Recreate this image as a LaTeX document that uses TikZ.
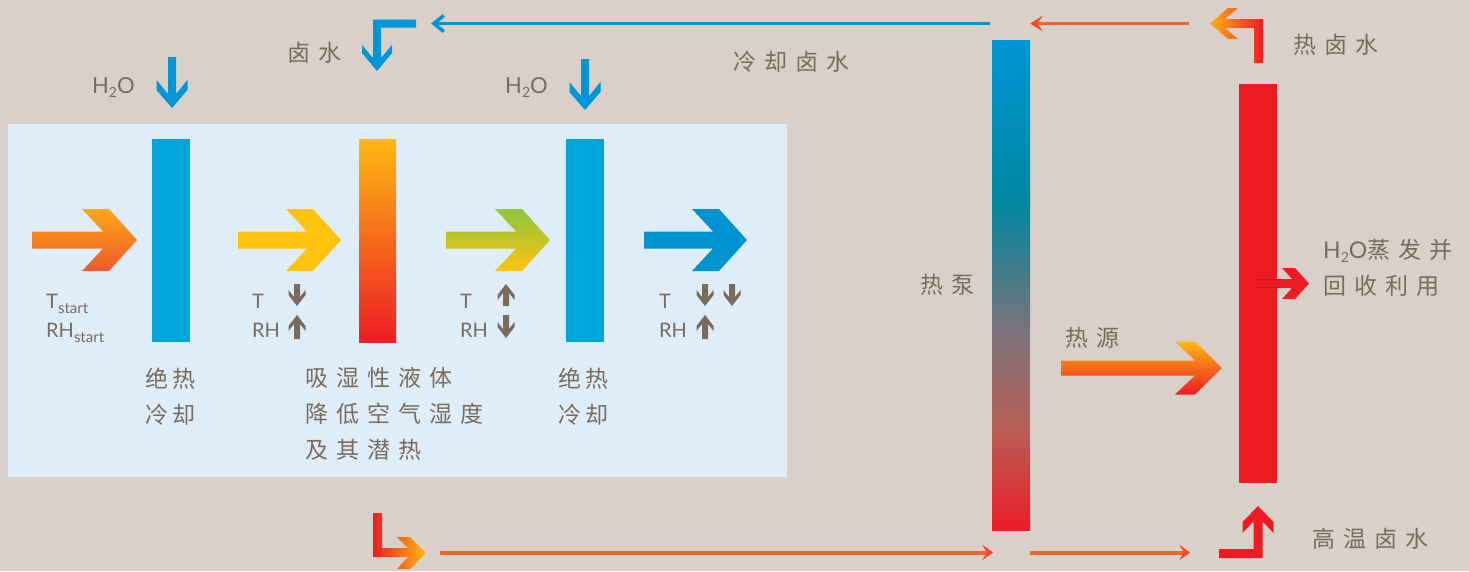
\documentclass[tikz,border=0pt]{standalone}
\usepackage{fontspec}
\setmainfont{Lato}
\newfontfamily\cjk[LetterSpace=35]{Noto Sans CJK SC}
\usetikzlibrary{arrows.meta}
\definecolor{bg}{HTML}{D9D0C9}
\definecolor{panel}{HTML}{DFEDF8}
\definecolor{txt}{HTML}{7A6C5C}
\definecolor{barblue}{HTML}{00A6DA}
\definecolor{arrblue}{HTML}{0093D0}
\definecolor{wblue}{HTML}{0096D6}
\definecolor{hred}{HTML}{ED1C24}
\definecolor{hyel}{HTML}{FDB913}
\definecolor{ayellow}{HTML}{FFC20E}
\definecolor{agreen}{HTML}{8DC63F}
\definecolor{lorange}{HTML}{EC6532}
\definecolor{tiporange}{HTML}{EF4B2A}
\definecolor{aoTop}{HTML}{FBA81A}
\definecolor{aoBot}{HTML}{F0592A}
\definecolor{hbYel}{HTML}{FBB016}
\definecolor{darkred}{HTML}{BE1923}
\definecolor{hpR}{HTML}{EC1C27}
\definecolor{hpA}{HTML}{B85E55}
\definecolor{hpB}{HTML}{7A737B}
\definecolor{hpC}{HTML}{00879F}
\pgfdeclareverticalshading{hpshade}{100bp}{color(0bp)=(hpR); color(25bp)=(hpR); color(35.2bp)=(hpA); color(45.4bp)=(hpB); color(58.4bp)=(hpC); color(75bp)=(wblue); color(100bp)=(wblue)}
\newcommand\myharrow[9]{\path[#1] (#2,#3) -- ({#2-#7},{#3-#6}) -- ({#2-#8},{#3-#6}) -- ({#2-#9},{#3-#5}) -- ({#2-#4},{#3-#5}) -- ({#2-#4},{#3+#5}) -- ({#2-#9},{#3+#5}) -- ({#2-#8},{#3+#6}) -- ({#2-#7},{#3+#6}) -- cycle;}
\newcommand\myvarrow[9]{\path[#1] (#2,#3) -- ({#2+#6},{#3-(#7)}) -- ({#2+#6},{#3-(#8)}) -- ({#2+#5},{#3-(#9)}) -- ({#2+#5},{#3-(#4)}) -- ({#2-#5},{#3-(#4)}) -- ({#2-#5},{#3-(#9)}) -- ({#2-#6},{#3-(#8)}) -- ({#2-#6},{#3-(#7)}) -- cycle;}
\newcommand\hto{H\lower4pt\hbox{\fontsize{14pt}{14pt}\selectfont 2}O}
\newcommand\sbs[1]{\lower5pt\hbox{\fontsize{15pt}{15pt}\selectfont #1}}
\tikzset{
  cn/.style={font=\cjk\fontsize{23pt}{36pt}\selectfont, text=txt, inner sep=0pt, anchor=west, align=left},
  ln/.style={font=\fontsize{22pt}{26pt}\selectfont, text=txt, inner sep=0pt, anchor=west},
  sn/.style={font=\fontsize{20pt}{24pt}\selectfont, text=txt, inner sep=0pt, anchor=base west},
  thinblue/.style={draw=wblue, line width=3.5pt},
  thinorange/.style={draw=lorange, line width=3.5pt}
}
\begin{document}
\begin{tikzpicture}[x=1pt,y=-1pt]
\useasboundingbox (0,0) rectangle (1469,571);
\fill[bg] (0,0) rectangle (1469,571);
% panel
\fill[panel] (8,124) rectangle (787,477);
% bars
\fill[barblue] (152,139) rectangle (190,342);
\shade[top color=hyel, bottom color=hred] (359,139) rectangle (396,342);
\fill[barblue] (566,139) rectangle (604,342);
\shade[shading=hpshade] (992,40) rectangle (1030,530);
\fill[hred] (1239,84) rectangle (1277,483);
% big horizontal arrows
\myharrow{top color=aoTop, bottom color=aoBot}{137}{240}{105}{8.5}{31}{28}{55}{34}
\myharrow{fill=ayellow}{341}{240}{103}{8.5}{31}{28}{55}{34}
\myharrow{top color=agreen, bottom color=ayellow}{550}{240}{104}{8.5}{31}{28}{55}{34}
\myharrow{fill=arrblue}{747}{240}{103}{8.5}{31}{28}{55}{34}
% heat source arrow
\myharrow{top color=hyel, bottom color=hred}{1222}{368}{161}{7.5}{26.5}{27}{47}{27}
% vapour arrow
\myharrow{fill=hred}{1309}{283.5}{52}{4.5}{15.5}{14}{27}{17}
\draw[darkred, line width=0.8pt] (1257,279.5) -- (1281,279.5) (1257,287.5) -- (1281,287.5);
% H2O arrows
\myvarrow{fill=wblue}{172}{108}{51}{4}{15.5}{18}{28}{14}
\myvarrow{fill=wblue}{585}{110}{51}{4}{15.5}{18}{28}{14}
% small brown arrows
\myvarrow{fill=txt}{297}{306}{22}{3}{8.5}{11}{16}{9}
\myvarrow{fill=txt}{297}{315}{-24}{3}{8.5}{-11}{-16}{-9}
\myvarrow{fill=txt}{506}{284}{-22}{3}{8.5}{-11}{-16}{-9}
\myvarrow{fill=txt}{506}{338}{23}{3}{8.5}{11}{16}{9}
\myvarrow{fill=txt}{705}{306}{22}{3}{8.5}{11}{16}{9}
\myvarrow{fill=txt}{732}{306}{22}{3}{8.5}{11}{16}{9}
\myvarrow{fill=txt}{705}{315}{-24}{3}{8.5}{-11}{-16}{-9}
% L arrow brine (blue)
\fill[wblue] (377,71) -- (392,53) -- (392,45) -- (381,58) -- (381,27.5) -- (416,27.5) -- (416,19.5) -- (373,19.5) -- (373,58) -- (362,45) -- (362,53) -- cycle;
% L arrow hot brine (top right)
\shade[left color=hbYel, right color=hred] (1210,23.5) -- (1228,8) -- (1238,8) -- (1225,19) -- (1263,19) -- (1263,63) -- (1254,63) -- (1254,28) -- (1225,28) -- (1238,39) -- (1228,39) -- cycle;
% L arrow bottom left
\shade[left color=hred, right color=hyel] (373,513) -- (382,513) -- (382,548) -- (408,548) -- (397,537) -- (410,537) -- (426,553) -- (410,569) -- (397,569) -- (408,557) -- (373,557) -- cycle;
% up arrow bottom right
\fill[hred] (1258,506) -- (1273.5,522) -- (1273.5,533) -- (1262.5,521.5) -- (1262.5,558) -- (1219,558) -- (1219,549) -- (1253.5,549) -- (1253.5,521.5) -- (1242.5,533) -- (1242.5,522) -- cycle;
% thin lines
\coordinate (cbR) at (990,23.5);
\coordinate (cbL) at (431,23.5);
\draw[thinblue, -{Straight Barb[length=10pt,width=16pt]}] (cbR) -- (cbL);
\coordinate (hoR) at (1189,23.5);
\coordinate (hoL) at (1030,23.5);
\draw[thinorange, -{Stealth[length=13pt,width=16pt,inset=6pt,color=tiporange]}] (hoR) -- (hoL);
\coordinate (bo1) at (440,552.5);
\coordinate (bo2) at (993,552.5);
\coordinate (bo3) at (1030,552.5);
\coordinate (bo4) at (1190,552.5);
\draw[thinorange, line width=4pt, -{Stealth[length=11pt,width=16pt,inset=5pt,color=tiporange]}] (bo1) -- (bo2);
\draw[thinorange, line width=4pt, -{Stealth[length=11pt,width=16pt,inset=5pt,color=tiporange]}] (bo3) -- (bo4);
% labels
\node[cn] (lushui) at (287,53) {卤水};
\node[ln] (h2oa) at (92,88) {\hto};
\node[ln] (h2ob) at (505,88) {\hto};
\node[cn] (lengque) at (733,62) {冷却卤水};
\node[cn] (relushui) at (1293,45) {热卤水};
\node[cn] (rebeng) at (920,285) {热泵};
\node[cn] (reyuan) at (1065,338) {热源};
\node[cn] (zhengfa) at (1323,267.5) {{\fontspec{Lato}\hto}蒸发并\\回收利用};
\node[cn] (gaowen) at (1312,539) {高温卤水};
\node[cn] (jr1) at (145,396.5) {绝\kern4pt 热\\冷\kern4pt 却};
\node[cn] (xishi) at (305,414) {吸湿性液体\\降低空气湿度\\及其潜热};
\node[cn] (jr2) at (558,396.5) {绝\kern4pt 热\\冷\kern4pt 却};
\node[sn] (t0) at (46,308) {T\sbs{start}};
\node[sn] (rh0) at (46,337) {RH\sbs{start}};
\node[sn] (t1) at (252,308) {T};
\node[sn] (rh1) at (252,337) {RH};
\node[sn] (t2) at (460,308) {T};
\node[sn] (rh2) at (460,337) {RH};
\node[sn] (t3) at (659,308) {T};
\node[sn] (rh3) at (659,337) {RH};
\end{tikzpicture}
\end{document}
